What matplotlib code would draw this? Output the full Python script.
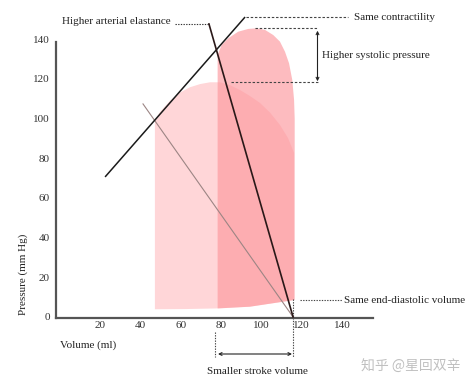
import matplotlib
matplotlib.use("Agg")
import matplotlib.pyplot as plt

# ---------------- data ----------------
x_ticks = [20, 40, 60, 80, 100, 120, 140]
y_ticks = [0, 20, 40, 60, 80, 100, 120, 140]

# baseline PV loop (light)
light_vol = [47.2, 47.2, 49.7, 54.7, 59.6, 64.6, 69.6, 74.5, 79.5, 84.4, 89.4, 94.3,
             99.3, 104.3, 109.2, 113.2, 116.2, 116.2, 110.7, 94.3, 77.0, 62.0]
light_p = [3.9, 99.3, 103.3, 109.0, 113.1, 115.8, 117.4, 118.3, 118.3, 116.9, 114.4, 111.4,
           107.9, 103.0, 96.8, 90.2, 82.7, 8.6, 7.7, 5.2, 4.3, 4.0]

# higher-afterload PV loop (dark)
dark_vol = [78.3, 78.3, 80.3, 83.6, 88.5, 93.5, 97.7, 101.8, 105.9, 109.2, 111.7, 113.7,
            115.3, 116.2, 116.5, 116.5, 110.7, 94.3]
dark_p = [4.3, 132.1, 137.1, 140.5, 143.8, 145.2, 145.5, 144.7, 142.1, 138.8, 133.7, 127.9,
          119.5, 109.4, 100.0, 8.6, 7.7, 5.2]

# end-systolic pressure-volume relation (same contractility)
espvr_vol = [22.5, 91.9]
espvr_p = [70.6, 151.2]

# arterial elastance lines
ea_base_vol = [41.3, 115.7]
ea_base_p = [107.4, 0.0]
ea_high_vol = [74.0, 115.7]
ea_high_p = [147.7, 0.0]

# ---------------- figure ----------------
W, H = 474, 386
fig = plt.figure(figsize=(W / 100, H / 100), dpi=100)
ax = fig.add_axes([0, 0, 1, 1])

# pixel -> data mapping of the reference
def vx(px):
    return (px - 59.7) / 2.017

def py(pyy):
    return (317 - pyy) / 1.984

ax.set_xlim(vx(0), vx(W))
ax.set_ylim(py(H), py(0))

serif = "Liberation Serif"
txt_col = "#222222"
plt.rcParams["font.family"] = [serif, "DejaVu Serif"]

# loops
ax.fill(light_vol, light_p, color=(255/255, 214/255, 216/255), lw=0, zorder=1)
ax.fill(dark_vol, dark_p, color=(252/255, 152/255, 158/255), alpha=0.66, lw=0, zorder=2)

# lines
ax.plot(espvr_vol, espvr_p, color="#1a1a1a", lw=1.1, zorder=4, solid_capstyle="butt")
ax.plot(ea_base_vol, ea_base_p, color="#9c8584", lw=0.8, zorder=3)
ax.plot(ea_high_vol, ea_high_p, color="#2a1818", lw=1.2, zorder=4)

# axes spines
for s in ["top", "right"]:
    ax.spines[s].set_visible(False)
ax.spines["left"].set_position(("data", vx(56)))
ax.spines["bottom"].set_position(("data", py(318)))
ax.spines["left"].set_bounds(py(318), py(42))
ax.spines["bottom"].set_bounds(vx(56), vx(373))
for s in ["left", "bottom"]:
    ax.spines[s].set_color("#555555")
    ax.spines[s].set_linewidth(1.6)

ax.set_xticks(x_ticks)
ax.set_xticklabels([str(v) for v in x_ticks])
ax.set_yticks(y_ticks)
ax.set_yticklabels([str(v) for v in y_ticks])
ax.tick_params(axis="both", length=0, labelsize=8, labelcolor="#333333")
ax.tick_params(axis="x", pad=2.5)
ax.tick_params(axis="y", pad=4.5)
for lab in ax.get_xticklabels() + ax.get_yticklabels():
    lab.set_family(serif)

fs = 8
dot_ls = (0, (1.2, 1.2))
dash_ls = (0, (2.2, 1.6))

# Higher arterial elastance
ax.text(vx(62), py(21), "Higher arterial elastance", fontsize=fs, color=txt_col,
        ha="left", va="center", family=serif)
ax.plot([vx(175), ea_high_vol[0]], [ea_high_p[0], ea_high_p[0]], color="#333", lw=0.8,
        ls=dot_ls, clip_on=False)

# Same contractility
ax.plot([espvr_vol[1] + 0.6, vx(348)], [espvr_p[1], espvr_p[1]], color="#444", lw=0.8,
        ls=dash_ls)
ax.text(vx(354), py(17), "Same contractility", fontsize=fs, color=txt_col,
        ha="left", va="center", family=serif)

# Higher systolic pressure
top_p = max(dark_p)
base_top = max(light_p)
ax.plot([vx(255), vx(318)], [top_p, top_p], color="#444", lw=0.8, ls=dash_ls)
ax.plot([vx(231), vx(318)], [base_top, base_top], color="#444", lw=0.8, ls=dash_ls)
ax.annotate("", xy=(vx(317.5), top_p - 1.2), xytext=(vx(317.5), base_top + 0.5),
            arrowprops=dict(arrowstyle="<->", lw=0.8, color="#222",
                            shrinkA=0, shrinkB=0, mutation_scale=5))
ax.text(vx(322), py(56), "Higher systolic pressure", fontsize=fs, color=txt_col,
        ha="left", va="center", family=serif)

# Same end-diastolic volume
edv = ea_base_vol[1]
ax.plot([vx(300), vx(342)], [py(300), py(300)], color="#444", lw=0.8, ls=dot_ls)
ax.text(vx(344), py(300.5), "Same end-diastolic volume", fontsize=fs, color=txt_col,
        ha="left", va="center", family=serif)
ax.plot([edv, edv], [py(299), py(357)], color="#444", lw=0.8, ls=dot_ls, clip_on=False)

# Smaller stroke volume
ax.plot([vx(215), vx(215)], [py(332), py(357)], color="#444", lw=0.8, ls=dot_ls)
ax.annotate("", xy=(vx(218), py(354)), xytext=(vx(292), py(354)),
            arrowprops=dict(arrowstyle="<->", lw=0.8, color="#222",
                            shrinkA=0, shrinkB=0, mutation_scale=5))
ax.text(vx(257), py(372), "Smaller stroke volume", fontsize=fs, color=txt_col,
        ha="center", va="center", family=serif)

# axis labels
ax.text(vx(60), py(345), "Volume (ml)", fontsize=fs, color=txt_col,
        ha="left", va="center", family=serif)
ax.text(vx(23), py(274), "Pressure (mm Hg)", fontsize=fs, color=txt_col,
        ha="center", va="center", rotation=90, family=serif)

# watermark
fig.text(411 / W, 1 - 367 / H, "知乎 @星回双辛", fontsize=10, color="#c0c0c0",
         ha="center", va="center", family=["Noto Sans CJK SC", "DejaVu Sans"])

fig.savefig("out.png", dpi=100)
